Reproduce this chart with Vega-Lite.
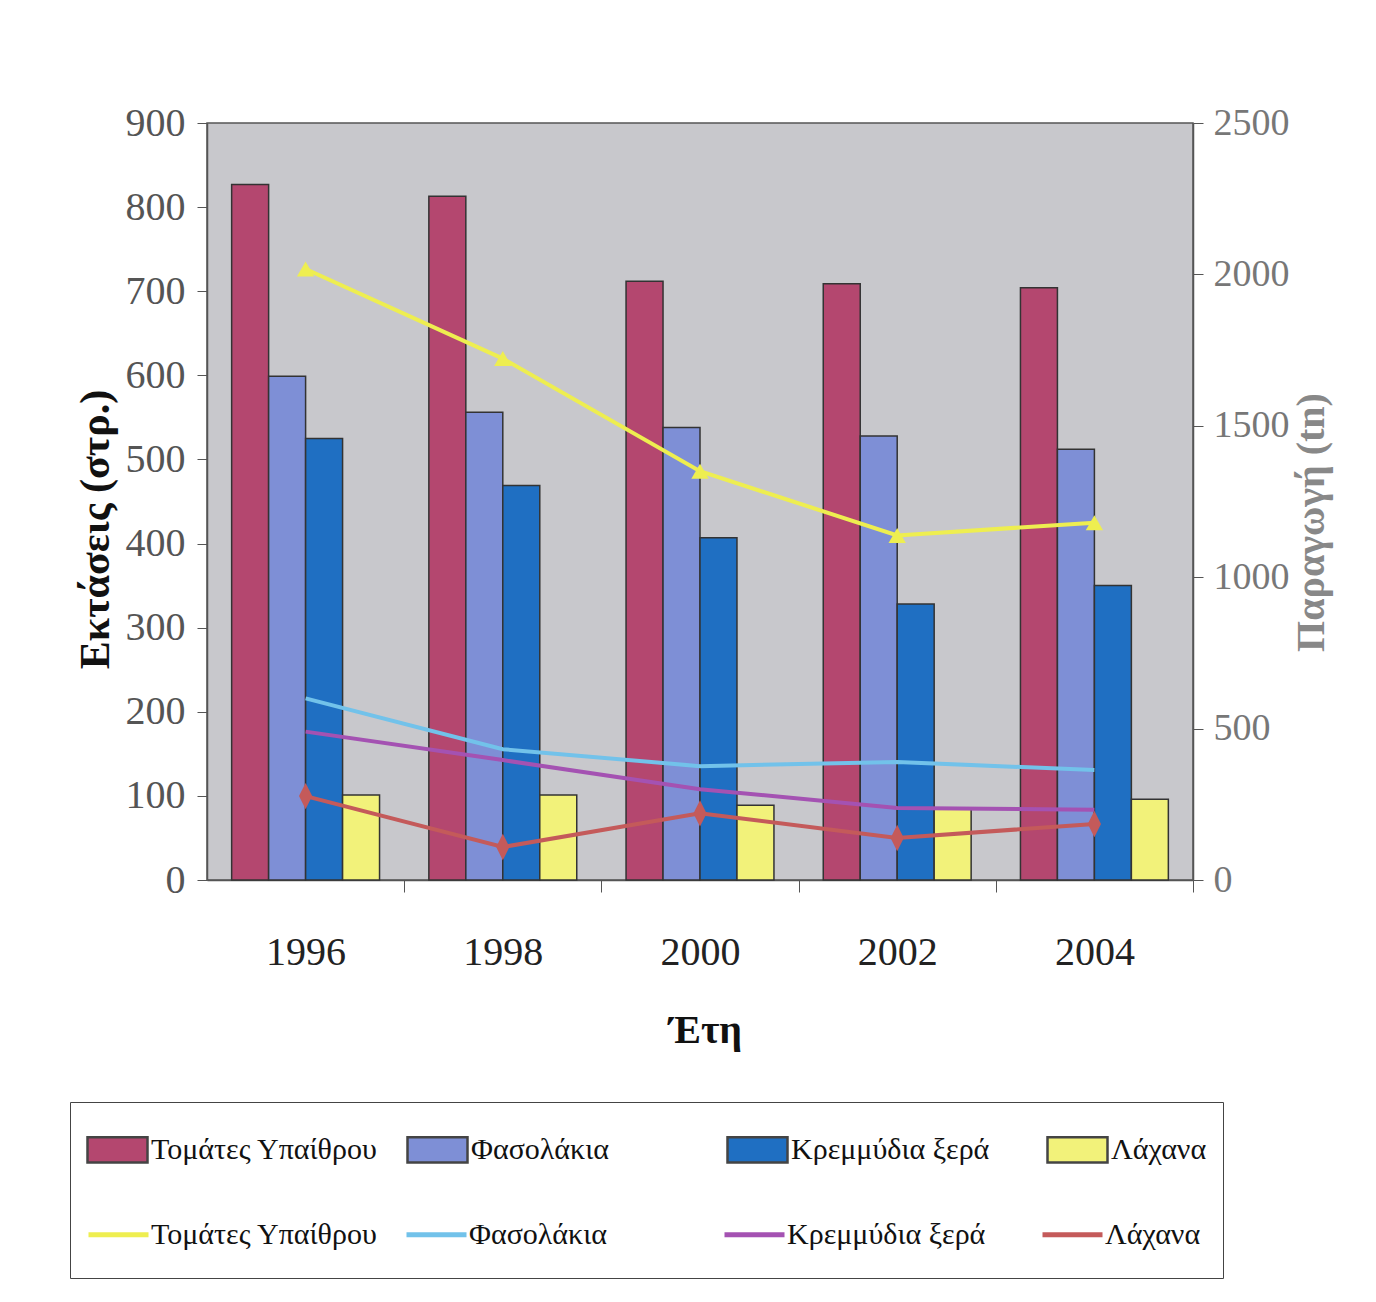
{
  "$schema": "https://vega.github.io/schema/vega-lite/v6.json",
  "autosize": {"type": "none"},
  "width": 986,
  "height": 757,
  "padding": {"left": 207, "top": 123, "right": 183, "bottom": 422},
  "background": "white",
  "config": {
    "view": {"fill": "#c8c8cc", "stroke": "#555555", "strokeWidth": 1.5},
    "font": "Liberation Serif",
    "axis": {"labelFont": "Liberation Serif", "titleFont": "Liberation Serif", "grid": false}
  },
  "datasets": {
    "areas": [
      {"year": "1996", "series": "Τομάτες Υπαίθρου (έκταση)", "area": 827},
      {"year": "1996", "series": "Φασολάκια (έκταση)", "area": 599},
      {"year": "1996", "series": "Κρεμμύδια ξερά (έκταση)", "area": 525},
      {"year": "1996", "series": "Λάχανα (έκταση)", "area": 101},
      {"year": "1998", "series": "Τομάτες Υπαίθρου (έκταση)", "area": 813},
      {"year": "1998", "series": "Φασολάκια (έκταση)", "area": 556},
      {"year": "1998", "series": "Κρεμμύδια ξερά (έκταση)", "area": 469},
      {"year": "1998", "series": "Λάχανα (έκταση)", "area": 101},
      {"year": "2000", "series": "Τομάτες Υπαίθρου (έκταση)", "area": 712},
      {"year": "2000", "series": "Φασολάκια (έκταση)", "area": 538},
      {"year": "2000", "series": "Κρεμμύδια ξερά (έκταση)", "area": 407},
      {"year": "2000", "series": "Λάχανα (έκταση)", "area": 89},
      {"year": "2002", "series": "Τομάτες Υπαίθρου (έκταση)", "area": 709},
      {"year": "2002", "series": "Φασολάκια (έκταση)", "area": 528},
      {"year": "2002", "series": "Κρεμμύδια ξερά (έκταση)", "area": 328},
      {"year": "2002", "series": "Λάχανα (έκταση)", "area": 84},
      {"year": "2004", "series": "Τομάτες Υπαίθρου (έκταση)", "area": 704},
      {"year": "2004", "series": "Φασολάκια (έκταση)", "area": 512},
      {"year": "2004", "series": "Κρεμμύδια ξερά (έκταση)", "area": 350},
      {"year": "2004", "series": "Λάχανα (έκταση)", "area": 96}
    ],
    "production": [
      {"year": "1996", "series": "Τομάτες Υπαίθρου (παραγωγή)", "production": 2018},
      {"year": "1998", "series": "Τομάτες Υπαίθρου (παραγωγή)", "production": 1722},
      {"year": "2000", "series": "Τομάτες Υπαίθρου (παραγωγή)", "production": 1350},
      {"year": "2002", "series": "Τομάτες Υπαίθρου (παραγωγή)", "production": 1138},
      {"year": "2004", "series": "Τομάτες Υπαίθρου (παραγωγή)", "production": 1180},
      {"year": "1996", "series": "Φασολάκια (παραγωγή)", "production": 600},
      {"year": "1998", "series": "Φασολάκια (παραγωγή)", "production": 432},
      {"year": "2000", "series": "Φασολάκια (παραγωγή)", "production": 376},
      {"year": "2002", "series": "Φασολάκια (παραγωγή)", "production": 390},
      {"year": "2004", "series": "Φασολάκια (παραγωγή)", "production": 363},
      {"year": "1996", "series": "Κρεμμύδια ξερά (παραγωγή)", "production": 490},
      {"year": "1998", "series": "Κρεμμύδια ξερά (παραγωγή)", "production": 396},
      {"year": "2000", "series": "Κρεμμύδια ξερά (παραγωγή)", "production": 300},
      {"year": "2002", "series": "Κρεμμύδια ξερά (παραγωγή)", "production": 238},
      {"year": "2004", "series": "Κρεμμύδια ξερά (παραγωγή)", "production": 232},
      {"year": "1996", "series": "Λάχανα (παραγωγή)", "production": 277},
      {"year": "1998", "series": "Λάχανα (παραγωγή)", "production": 109},
      {"year": "2000", "series": "Λάχανα (παραγωγή)", "production": 220},
      {"year": "2002", "series": "Λάχανα (παραγωγή)", "production": 139},
      {"year": "2004", "series": "Λάχανα (παραγωγή)", "production": 185}
    ]
  },
  "layer": [
    {
      "data": {"name": "areas"},
      "mark": {"type": "bar", "stroke": "#333333", "strokeWidth": 1.5},
      "encoding": {
        "x": {
          "field": "year", "type": "ordinal",
          "scale": {"paddingInner": 0.25, "paddingOuter": 0.125},
          "axis": {
            "title": "Έτη", "titleFontSize": 40, "titleFontWeight": "bold", "titleColor": "#111111",
            "titleX": 498, "titleY": 150, "titleBaseline": "middle", "titleAlign": "center",
            "labelAngle": 0, "labelFontSize": 40, "labelColor": "#222222", "labelPadding": 40,
            "tickOffset": 98.6, "labelOffset": -98.6,
            "tickSize": 12, "tickColor": "#555555", "domainColor": "#555555", "domainWidth": 1.5
          }
        },
        "xOffset": {
          "field": "series", "type": "nominal",
          "scale": {"domain": ["Τομάτες Υπαίθρου (έκταση)", "Φασολάκια (έκταση)", "Κρεμμύδια ξερά (έκταση)", "Λάχανα (έκταση)"], "paddingInner": 0, "paddingOuter": 0}
        },
        "y": {
          "field": "area", "type": "quantitative",
          "scale": {"domain": [0, 900], "nice": false},
          "axis": {
            "title": "Εκτάσεις (στρ.)", "titleFontSize": 42, "titleFontWeight": "bold", "titleColor": "#111111",
            "titleX": -112, "titleY": 406, "titleAngle": 270, "titleAlign": "center", "titleBaseline": "middle",
            "values": [0, 100, 200, 300, 400, 500, 600, 700, 800, 900], "format": "d",
            "labelFontSize": 40, "labelColor": "#555555", "labelPadding": 12,
            "tickSize": 10, "tickColor": "#555555", "domainColor": "#555555", "domainWidth": 1.5
          }
        },
        "color": {
          "field": "series", "type": "nominal",
          "scale": {
            "domain": ["Τομάτες Υπαίθρου (έκταση)", "Φασολάκια (έκταση)", "Κρεμμύδια ξερά (έκταση)", "Λάχανα (έκταση)"],
            "range": ["#b4476f", "#7e8fd6", "#1f6fc2", "#f2f27a"]
          },
          "legend": {
            "orient": "none", "legendX": -137, "legendY": 979,
            "title": "\u2003\u2003\u2003\u2003\u2003\u2003\u2003\u2003\u2003\u2003\u2003\u2003\u2003\u2003\u2003\u2003\u2003\u2003\u2003\u2003\u2003\u2003\u2003\u2003\u2003\u2003\u2003\u2003\u2003\u2003\u2003\u2003\u2003\u2003\u2003\u2003\u2003\u2003\u2003\u2003\u2003\u2003\u2003\u2003\u2003\u2003\u2003\u2003\u2003\u2003\u2003\u2003\u2003\u2003\u2003\u2003\u2003\u2003\u2003\u2003\u2003\u2003\u2003\u2003\u2003\u2003\u2003\u2003\u2003\u2003\u2003\u2003\u2003\u2003\u2003\u2003\u2003\u2003\u2003\u2003\u2003\u2003\u2003\u2003\u2003\u2003\u2003\u2003\u2003\u2003\u2003\u2003\u2003\u2003\u2003\u2003\u2003\u2003\u2003\u2003\u2003\u2003\u2003\u2003\u2003\u2003\u2003\u2003\u2003\u2003\u2003\u2003\u2003\u2003\u2003\u2003\u2003\u2003\u2003\u2003\u2003\u2003\u2003",
            "titleOrient": "bottom", "titlePadding": 84, "titleFontSize": 10, "titleLimit": 3000,
            "columns": 4, "direction": "horizontal", "gridAlign": "all",
            "symbolType": "M-1,-0.42H1V0.42H-1Z", "symbolSize": 3600,
            "symbolStrokeColor": "#444444", "symbolStrokeWidth": 2.5,
            "labelFontSize": 30, "labelFont": "Liberation Serif", "labelColor": "#111111",
            "labelOffset": 2, "labelLimit": 400, "columnPadding": 24, "padding": 16,
            "strokeColor": "#444444",
            "labelExpr": "split(datum.label, ' (')[0]"
          }
        }
      }
    },
    {
      "data": {"name": "production"},
      "encoding": {
        "x": {"field": "year", "type": "ordinal"},
        "y": {
          "field": "production", "type": "quantitative",
          "scale": {"domain": [0, 2500], "nice": false},
          "axis": {
            "orient": "right",
            "title": "Παραγωγή (tn)", "titleFontSize": 40, "titleFontWeight": "bold", "titleColor": "#888888",
            "titleX": 118, "titleY": 399, "titleAngle": 270, "titleAlign": "center", "titleBaseline": "middle",
            "values": [0, 500, 1000, 1500, 2000, 2500], "format": "d",
            "labelFontSize": 38, "labelColor": "#777777", "labelPadding": 10,
            "tickSize": 10, "tickColor": "#555555", "domainColor": "#555555", "domainWidth": 1.5
          }
        }
      },
      "layer": [
        {
          "mark": {"type": "line", "strokeWidth": 4},
          "encoding": {
            "stroke": {
              "field": "series", "type": "nominal",
              "scale": {
                "domain": ["Τομάτες Υπαίθρου (παραγωγή)", "Φασολάκια (παραγωγή)", "Κρεμμύδια ξερά (παραγωγή)", "Λάχανα (παραγωγή)"],
                "range": ["#eeee50", "#72c2ea", "#a452b2", "#c45a5a"]
              },
              "legend": {
                "orient": "none", "legendX": -137, "legendY": 1063,
                "title": null,
                "columns": 4, "direction": "horizontal", "gridAlign": "all",
                "symbolType": "M-1,0H1", "symbolSize": 3600, "symbolStrokeWidth": 5,
                "labelFontSize": 30, "labelFont": "Liberation Serif", "labelColor": "#111111",
                "labelOffset": 0, "labelLimit": 400, "columnPadding": 18, "padding": 16,
                "labelExpr": "split(datum.label, ' (')[0]"
              }
            }
          }
        },
        {
          "transform": [{"filter": "indexof(datum.series,'Τομάτες')>=0"}],
          "mark": {"type": "point", "shape": "triangle-up", "filled": true, "size": 300, "color": "#eeee50", "opacity": 1}
        },
        {
          "transform": [{"filter": "indexof(datum.series,'Λάχανα')>=0"}],
          "mark": {"type": "point", "shape": "M0,-1L0.5,0L0,1L-0.5,0Z", "filled": true, "size": 700, "color": "#c45a5a", "opacity": 1}
        }
      ]
    }
  ],
  "resolve": {"scale": {"y": "independent"}}
}
